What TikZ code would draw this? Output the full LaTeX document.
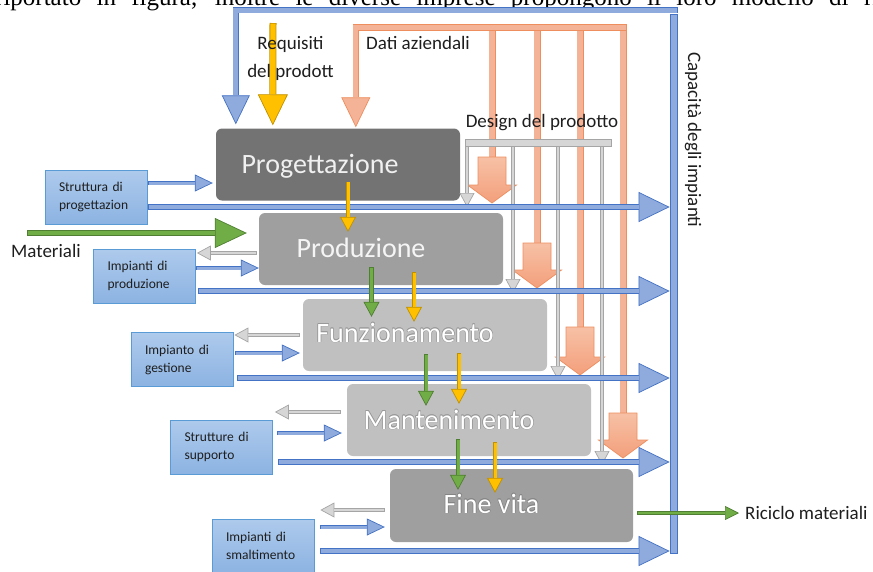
\documentclass[tikz,border=0pt]{standalone}
\usepackage{fontspec}
\setmainfont{Carlito}
\newfontfamily\pagefont{Liberation Serif}
\usetikzlibrary{arrows.meta,calc}

\definecolor{bEdge}{HTML}{4472C4}
\definecolor{bFill}{HTML}{8FAADC}
\definecolor{sEdge}{HTML}{5B9BD5}
\definecolor{sTop}{HTML}{AECAEC}
\definecolor{sBot}{HTML}{8CB3E2}
\definecolor{oEdge}{HTML}{EE8D5E}
\definecolor{oFill}{HTML}{F4B396}
\definecolor{oTop}{HTML}{F7C1A6}
\definecolor{oBot}{HTML}{F39F7B}
\definecolor{gEdge}{HTML}{A5A5A5}
\definecolor{gFill}{HTML}{D6D6D6}
\definecolor{yEdge}{HTML}{BF9000}
\definecolor{yFill}{HTML}{FFC000}
\definecolor{grEdge}{HTML}{507E32}
\definecolor{grFill}{HTML}{70AD47}
\definecolor{pDark}{HTML}{737373}
\definecolor{pMid}{HTML}{9F9F9F}
\definecolor{pLight}{HTML}{C0C0C0}
\definecolor{txtDark}{HTML}{1E1E1E}

% orange branch: bar from the top line down to a wide block arrow
\newcommand{\orangedrop}[3]{%
  \draw[orangebar] (oR -| #1,0) -- (#1,#2);
  \draw[orangebody] (#1-14,#2) -- (#1+14,#2) -- (#1+14,#3-18) -- (#1+24.5,#3-18)
    -- (#1,#3) -- (#1-24.5,#3-18) -- (#1-14,#3-18) -- cycle;
}
% white stage title with a thin grey outline
\newcommand{\halonode}[4]{%
  \foreach \hx/\hy in {0.55/0,-0.55/0,0/0.55,0/-0.55,0.4/0.4,-0.4/0.4,0.4/-0.4,-0.4/-0.4}
    \node[proctext, text=#3] at ($(#2)+(\hx,\hy)$) {#4};
  \node[proctext, text=white] (#1) at (#2) {#4};
}

\begin{document}
\begin{tikzpicture}[x=1pt, y=-1pt,
  blockflow/.style n args={6}{draw=#1, line width=#3, line cap=butt,
    -{Triangle[length=#5, width=#6, fill=#2, line width=0.7pt]},
    postaction={draw=#2, line width=#4, arrows=-, shorten <=0.7pt, shorten >=#5}},
  bluelong/.style={blockflow={bEdge}{bFill}{6pt}{4.4pt}{31pt}{30pt}},
  blueshort/.style={blockflow={bEdge}{bFill}{4.6pt}{3pt}{18pt}{17pt}},
  bluebent/.style={blockflow={bEdge}{bFill}{6.6pt}{5pt}{29pt}{28pt}},
  grayarr/.style={blockflow={gEdge}{gFill}{4.4pt}{2.6pt}{14pt}{15pt}},
  yellowsm/.style={blockflow={yEdge}{yFill}{4.6pt}{3pt}{15pt}{16pt}},
  greensm/.style={blockflow={grEdge}{grFill}{4.6pt}{3pt}{15pt}{16pt}},
  yellowbig/.style={blockflow={yEdge}{yFill}{7pt}{5.4pt}{31pt}{30pt}},
  greenbig/.style={blockflow={grEdge}{grFill}{6.4pt}{4.8pt}{32pt}{30pt}},
  recycle/.style={blockflow={grEdge}{grFill}{3.6pt}{2pt}{14pt}{14pt}},
  orangeflow/.style={blockflow={oEdge}{oFill}{6.6pt}{5pt}{30pt}{29pt}},
  orangebar/.style={draw=oEdge, line width=7pt, postaction={draw=oFill, line width=5.4pt}},
  orangebody/.style={draw=oEdge, line width=0.7pt, top color=oTop, bottom color=oBot},
  procbox/.style={rounded corners=6pt, minimum width=244pt, minimum height=72pt, inner sep=0pt},
  proctext/.style={anchor=base, inner sep=0pt, font=\fontsize{28}{30}\selectfont},
  srcbox/.style={draw=sEdge, line width=0.8pt, top color=sTop, bottom color=sBot,
    minimum height=54pt, text width=74pt, inner xsep=14pt, inner ysep=0pt, align=left,
    text=txtDark, font=\fontsize{13.5}{18}\selectfont},
  lbl/.style={inner sep=0pt, text=txtDark, font=\fontsize{19}{22}\selectfont}
]
\useasboundingbox (0,0) rectangle (873,571);

% running text of the page above the figure
\node[anchor=base west, inner sep=0pt, font=\pagefont\fontsize{25}{28}\selectfont] (pagetext) at (-5,5)
  {\makebox[884pt][s]{riportato in figura, inoltre le diverse imprese propongono il loro modello di ri}};

% life-cycle stages
\node[procbox, fill=pDark] (prog) at (338,164.5) {};
\node[procbox, fill=pMid] (prod) at (381,249) {};
\node[procbox, fill=pLight] (funz) at (425,335) {};
\node[procbox, fill=pLight] (mant) at (469,420) {};
\node[procbox, fill=pMid, minimum width=243pt, minimum height=73pt] (fine) at (511.5,505.5) {};

\coordinate (progT) at ($(prog.center)+(-18,8.5)$);
\coordinate (prodT) at ($(prod.center)+(-20,8)$);
\coordinate (funzT) at ($(funz.center)+(-20,7)$);
\coordinate (mantT) at ($(mant.center)+(-20,9)$);
\coordinate (fineT) at ($(fine.center)+(-20,7.5)$);
\node[proctext, text=black!6] (progt) at (progT) {Progettazione};
\node[proctext, text=black!4] (prodt) at (prodT) {Produzione};
\halonode{funzt}{funzT}{black!40}{Funzionamento}
\halonode{mantt}{mantT}{black!40}{Mantenimento}
\halonode{finet}{fineT}{black!48}{Fine vita}

% plant boxes on the left
\node[srcbox] (s1) at (96,197) {Struttura di\\progettazion};
\node[srcbox] (s2) at (144.5,276) {Impianti di\\produzione};
\node[srcbox] (s3) at (182,359.5) {Impianto di\\gestione};
\node[srcbox] (s4) at (221.5,447) {Strutture di\\supporto};
\node[srcbox] (s5) at (263,546) {Impianti di\\smaltimento};

% plant capacity collector
\node[draw=bEdge, fill=bFill, line width=0.8pt, minimum width=7pt, minimum height=539pt, inner sep=0pt] (capbar) at (673.5,283.5) {};

% company data
\coordinate (oR) at (626.5,27.5);
\orangedrop{492}{157}{203}
\orangedrop{537}{243}{288}
\orangedrop{580}{327}{375}
\orangedrop{623}{413}{458}
\draw[orangeflow] (oR) -| ($(prog.north west)+(140,-1)$);

% product design
\coordinate (dmid) at (538,142.5);
\draw[grayarr] (dmid -| 467,0) -- (467,207);
\draw[grayarr] (dmid -| 513,0) -- (513,293);
\draw[grayarr] (dmid -| 558,0) -- (558,380);
\draw[grayarr] (dmid -| 602,0) -- (602,465);
\node[draw=gEdge, fill=gFill, line width=0.7pt, minimum width=146pt, minimum height=7pt, inner sep=0pt] (dbar) at (dmid) {};

% plants <-> stages, and plant capacity
\draw[blueshort] ($(s1.east)+(1,-14)$) -- ($(prog.west)+(-3,18.5)$);
\draw[bluelong] ($(s1.east)+(1,10)$) coordinate (l1) -- (capbar.west |- l1);

\draw[grayarr] ($(prod.west)+(-2,4)$) -- ($(s2.east)+(1,-23)$);
\draw[blueshort] ($(s2.east)+(0,-8)$) -- ($(prod.west)+(0,19)$);
\draw[bluelong] ($(s2.east)+(2,15)$) coordinate (l2) -- (capbar.west |- l2);

\draw[grayarr] ($(funz.west)+(-3,0)$) -- ($(s3.east)+(1,-24.5)$);
\draw[blueshort] ($(s3.east)+(2,-6.5)$) -- ($(funz.west)+(-3,18)$);
\draw[bluelong] ($(s3.east)+(4,18.5)$) coordinate (l3) -- (capbar.west |- l3);

\draw[grayarr] ($(mant.west)+(-6,-8)$) -- ($(s4.east)+(2,-35)$);
\draw[blueshort] ($(s4.east)+(4,-14)$) -- ($(mant.west)+(-5,13)$);
\draw[bluelong] ($(s4.east)+(5,15)$) coordinate (l4) -- (capbar.west |- l4);

\draw[grayarr] ($(fine.west)+(-5,4.5)$) -- ($(s5.east)+(6,-36)$);
\draw[blueshort] ($(s5.east)+(6,-19)$) -- ($(fine.west)+(-5,21.5)$);
\draw[bluelong] ($(s5.east)+(6,5)$) coordinate (l5) -- (capbar.west |- l5);

% requirements and materials passed between stages
\draw[yellowsm] ($(prog.south)+(10,-19)$) -- ($(prod.north)+(-33,19)$);
\draw[greensm] ($(prod.south)+(-9.5,-18)$) -- ($(funz.north)+(-53.5,18)$);
\draw[yellowsm] ($(prod.south)+(33,-13)$) -- ($(funz.north)+(-11,23)$);
\draw[greensm] ($(funz.south)+(1,-17)$) -- ($(mant.north)+(-43,22)$);
\draw[yellowsm] ($(funz.south)+(34,-18)$) -- ($(mant.north)+(-10,20)$);
\draw[greensm] ($(mant.south)+(-11,-17)$) -- ($(fine.north)+(-53.5,21)$);
\draw[yellowsm] ($(mant.south)+(26,-14)$) -- ($(fine.north)+(-16.5,24)$);

% capacity feedback into design
\draw[bluebent] ($(capbar.north east)+(0.5,-3.5)$) -| ($(prog.north west)+(20,-4)$);

% product requirements
\coordinate (reqtop) at (273,23);
\draw[yellowbig] (reqtop) -- ($(prog.north west)+(57,-3)$);

% materials in and out
\coordinate (matin) at (27,233);
\draw[greenbig] (matin) -- ($(prod.west)+(-12,-16)$);
\coordinate (recout) at (739,513);
\draw[recycle] ($(fine.east)+(4,7.5)$) -- (recout);

% labels
\node[lbl, anchor=base] (req1) at (290.5,49) {Requisiti};
\node[lbl, anchor=base] (req2) at (290.5,77) {del prodott};
\node[lbl, anchor=base west] (dati) at (366,49) {Dati aziendali};
\node[lbl, anchor=base] (design) at (542,127) {Design del prodotto};
\node[lbl, rotate=-90] (caplbl) at (693,140) {Capacità degli impianti};
\node[lbl, anchor=base west] (matlbl) at (11,257) {Materiali};
\node[lbl, anchor=base west] (riclbl) at (745,519) {Riciclo materiali};
\end{tikzpicture}
\end{document}
